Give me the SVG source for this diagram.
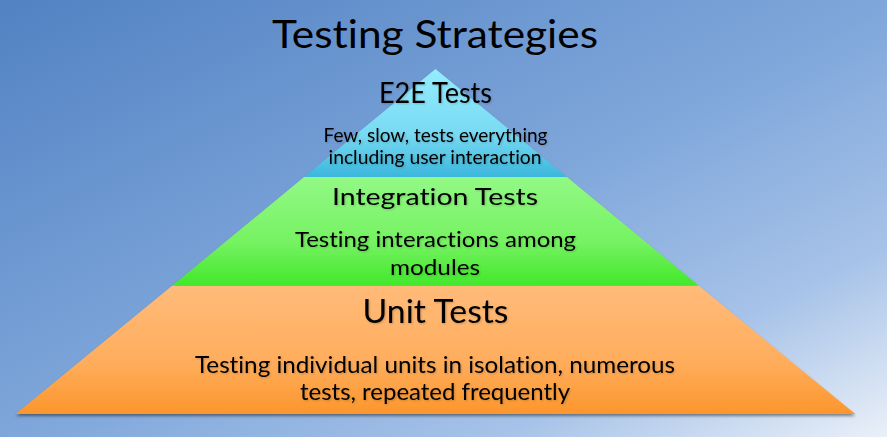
<svg xmlns="http://www.w3.org/2000/svg" width="887" height="437" viewBox="0 0 887 437">
  <defs>
    <linearGradient id="bg" x1="0" y1="0" x2="1" y2="1">
      <stop offset="0" stop-color="#5282c3"/>
      <stop offset="0.5" stop-color="#7ea6da"/>
      <stop offset="0.78" stop-color="#a6c2e8"/>
      <stop offset="1" stop-color="#eaf0f8"/>
    </linearGradient>
    <linearGradient id="gTop" x1="0" y1="0" x2="0" y2="1">
      <stop offset="0" stop-color="#95edfd"/>
      <stop offset="0.6" stop-color="#78daf3"/>
      <stop offset="1" stop-color="#3bb7dc"/>
    </linearGradient>
    <linearGradient id="gMid" x1="0" y1="0" x2="0" y2="1">
      <stop offset="0" stop-color="#92f985"/>
      <stop offset="0.6" stop-color="#76f262"/>
      <stop offset="1" stop-color="#42e82c"/>
    </linearGradient>
    <linearGradient id="gBase" x1="0" y1="0" x2="0" y2="1">
      <stop offset="0" stop-color="#ffbb7a"/>
      <stop offset="0.6" stop-color="#ffad5c"/>
      <stop offset="1" stop-color="#fc962c"/>
    </linearGradient>
    <filter id="shadow" x="-5%" y="-5%" width="110%" height="115%">
      <feGaussianBlur in="SourceAlpha" stdDeviation="1.5"/>
      <feOffset dx="0" dy="2" result="b"/>
      <feComponentTransfer><feFuncA type="linear" slope="0.45"/></feComponentTransfer>
      <feMerge><feMergeNode/><feMergeNode in="SourceGraphic"/></feMerge>
    </filter>
    <filter id="txtGlow" x="-10%" y="-30%" width="120%" height="160%">
      <feGaussianBlur in="SourceAlpha" stdDeviation="1.2"/>
      <feOffset dx="0.5" dy="1"/>
      <feComponentTransfer><feFuncA type="linear" slope="0.2"/></feComponentTransfer>
      <feMerge><feMergeNode/><feMergeNode in="SourceGraphic"/></feMerge>
    </filter>
  </defs>
  <style>
    text { font-family: Lato, "Open Sans", "Liberation Sans", sans-serif; fill: #000; text-anchor: middle; font-variant-ligatures: none; font-feature-settings: "liga" 0, "clig" 0; }
    .lbl { filter: url(#txtGlow); }
  </style>

  <!-- backdrop -->
  <rect x="0" y="0" width="887" height="437" fill="url(#bg)"/>

  <!-- heading -->
  <text x="435" y="48" font-size="39" textLength="326" lengthAdjust="spacingAndGlyphs">Testing Strategies</text>

  <!-- pyramid layers -->
  <g id="pyramid" filter="url(#shadow)">
    <g id="unit-tests">
      <polygon points="172.4,285.5 698.6,285.5 855.3,414 15.7,414" fill="url(#gBase)"/>
    </g>
    <g id="integration-tests">
      <polygon points="304.1,177 566.9,177 698.6,285.5 172.4,285.5" fill="url(#gMid)"/>
    </g>
    <g id="e2e-tests">
      <polygon points="435.5,69 566.9,177 304.1,177" fill="url(#gTop)"/>
    </g>
  </g>

  <!-- layer labels -->
  <g id="e2e-tests-label" class="lbl">
    <text x="435.5" y="103" font-size="28" textLength="113" lengthAdjust="spacingAndGlyphs">E2E Tests</text>
    <text x="435.5" y="141.7" font-size="19" textLength="224" lengthAdjust="spacingAndGlyphs">Few, slow, tests everything</text>
    <text x="435" y="163.5" font-size="19" textLength="213" lengthAdjust="spacingAndGlyphs">including user interaction</text>
  </g>
  <g id="integration-tests-label" class="lbl">
    <text x="435" y="205" font-size="24" textLength="206" lengthAdjust="spacingAndGlyphs">Integration Tests</text>
    <text x="435.5" y="247" font-size="22" textLength="281" lengthAdjust="spacingAndGlyphs">Testing interactions among</text>
    <text x="435" y="275" font-size="22" textLength="90" lengthAdjust="spacingAndGlyphs">modules</text>
  </g>
  <g id="unit-tests-label" class="lbl">
    <text x="435.5" y="323.3" font-size="32" textLength="146" lengthAdjust="spacingAndGlyphs">Unit Tests</text>
    <text x="435" y="373.3" font-size="23" textLength="480" lengthAdjust="spacingAndGlyphs">Testing individual units in isolation, numerous</text>
    <text x="435" y="400" font-size="23" textLength="270" lengthAdjust="spacingAndGlyphs">tests, repeated frequently</text>
  </g>
</svg>
